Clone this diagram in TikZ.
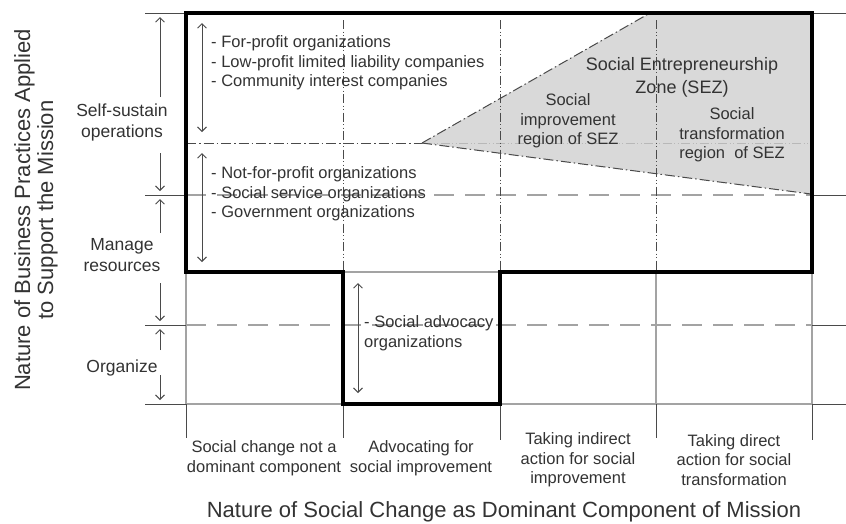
\documentclass[tikz,border=0pt]{standalone}
\usepackage{fontspec}
\setmainfont{Liberation Sans}
\usetikzlibrary{arrows.meta}

\definecolor{ink}{HTML}{333333}
\definecolor{rule}{HTML}{4A4A4A}
\definecolor{gridgray}{HTML}{A3A3A3}
\definecolor{lightdash}{HTML}{B8B8B8}
\definecolor{sezfill}{HTML}{D9D9D9}

\tikzset{
  txt/.style={text=ink, inner sep=0pt, font=\fontsize{16.5}{19.5}\selectfont},
  listtxt/.style={txt, anchor=west, align=left},
  ctrtxt/.style={txt, align=center},
  levtxt/.style={ctrtxt, font=\fontsize{17.5}{21}\selectfont},
  axistxt/.style={ctrtxt, font=\fontsize{22}{23}\selectfont},
  seztitle/.style={ctrtxt, font=\fontsize{18}{23}\selectfont},
  barb/.tip={Straight Barb[length=4.5pt,width=9pt,line width=0.9pt]},
  span/.style={draw=rule, line width=0.9pt, barb-barb},
  halfspan/.style={draw=rule, line width=0.9pt, -barb},
  tickline/.style={draw=rule, line width=1pt},
  gridline/.style={draw=gridgray, line width=1.5pt},
  griddash/.style={draw=gridgray, line width=1.3pt, dash pattern=on 20pt off 11pt},
  colsep/.style={draw=rule, line width=1pt, dash pattern=on 9pt off 2.5pt on 1pt off 2.5pt on 1pt off 2.5pt},
  sezedge/.style={draw=rule, line width=1pt, dash pattern=on 10pt off 3pt on 1.5pt off 3pt},
  sezmid/.style={draw=lightdash, line width=0.9pt, dash pattern=on 9pt off 2.5pt on 1pt off 2.5pt on 1pt off 2.5pt},
  frame/.style={draw=black, line width=4pt, line join=miter}
}

\begin{document}
\begin{tikzpicture}[x=1pt,y=-1pt]
  \useasboundingbox (0,0) rectangle (846,523);
  \fill[white] (0,0) rectangle (846,523);

  % social entrepreneurship zone
  \coordinate (apex) at (422,143);
  \coordinate (seztop) at (650,13);
  \coordinate (sezbot) at (811,194);
  \fill[sezfill] (apex) -- (seztop) -- (812,13) -- (812,194) -- (sezbot) -- cycle;
  \draw[sezmid] (apex) -- (811,143);

  % grid lines
  \draw[gridline] (186,272) -- (812,272);
  \draw[gridline] (186,404) -- (812,404);
  \draw[gridline] (186,272) -- (186,404);
  \draw[gridline] (656,272) -- (656,404);
  \draw[gridline] (812,272) -- (812,404);
  \draw[griddash] (186,195) -- (812,195);
  \draw[griddash] (186,325) -- (812,325);

  % row ticks, left and right
  \foreach \yy in {13,195,325,404} {
    \draw[tickline] (145,\yy) -- (186,\yy);
    \draw[tickline] (812,\yy) -- (846,\yy);
  }
  % column ticks below the chart
  \foreach \xx/\len in {186/438,343/438,500/440,656/438,812/440} {
    \draw[tickline] (\xx,404) -- (\xx,\len);
  }

  % column separators in the upper band
  \draw[colsep] (343,20) -- (343,272);
  \draw[colsep] (500,20) -- (500,272);
  \draw[colsep] (656,20) -- (656,272);

  % boundary of the self-sustaining band and SEZ edges
  \draw[sezedge] (186,143) -- (apex);
  \draw[sezedge] (apex) -- (seztop);
  \draw[sezedge] (apex) -- (sezbot);

  % heavy outline of the organization region
  \draw[frame] (186,13) -- (812,13) -- (812,272) -- (500,272) -- (500,404)
      -- (343,404) -- (343,272) -- (186,272) -- cycle;

  % level arrows on the left
  \draw[halfspan] (160,97) -- (160,17);
  \draw[halfspan] (160,153) -- (160,191);
  \draw[halfspan] (160,233) -- (160,199);
  \draw[halfspan] (160,283) -- (160,321);
  \draw[halfspan] (160,350) -- (160,329);
  \draw[halfspan] (160,375) -- (160,400);

  \node[levtxt] (lvl1) at (122,122) {Self-sustain\\operations};
  \node[levtxt] (lvl2) at (122,255) {Manage\\resources};
  \node[levtxt] (lvl3) at (122,368) {Organize};

  % spans inside the chart
  \draw[span] (202,23) -- (202,132);
  \draw[span] (202,153) -- (202,262);
  \draw[span] (358,283) -- (358,393);

  \node[listtxt] (forprofit) at (211,63) {- For-profit organizations\\- Low-profit limited liability companies\\- Community interest companies};
  \node[listtxt] (nonprofit) at (211,194) {- Not-for-profit organizations\\- Social service organizations\\- Government organizations};
  \node[listtxt] (advocacy) at (364,333) {- Social advocacy\\organizations};

  % zone labels
  \node[seztitle] (sez) at (682,77) {Social Entrepreneurship\\Zone (SEZ)};
  \node[ctrtxt] (sezimp) at (568,121) {Social\\improvement\\region of SEZ};
  \node[ctrtxt] (seztrans) at (732,135) {Social\\transformation\\region\ \ of SEZ};

  % column labels
  \node[ctrtxt] (col1) at (264,458) {Social change not a\\dominant component};
  \node[ctrtxt] (col2) at (421,458) {Advocating for\\social improvement};
  \node[ctrtxt] (col3) at (578,460) {Taking indirect\\action for social\\improvement};
  \node[ctrtxt] (col4) at (734,460) {Taking direct\\action for social\\transformation};

  % axis titles
  \node[axistxt] (xaxis) at (504,512) {Nature of Social Change as Dominant Component of Mission};
  \node[axistxt, rotate=90] (yaxis) at (36,210) {Nature of Business Practices Applied\\to Support the Mission};
\end{tikzpicture}
\end{document}
